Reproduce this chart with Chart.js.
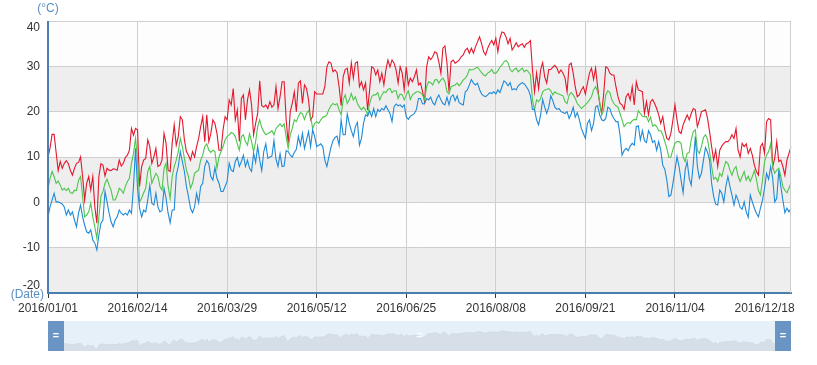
<!DOCTYPE html>
<html><head><meta charset="utf-8">
<script src="https://cdn.jsdelivr.net/npm/chart.js@4.4.1/dist/chart.umd.min.js"></script>
<style>
html,body{margin:0;padding:0;background:#fff;}
#wrap{position:relative;width:817px;height:365px;overflow:hidden;}
#main{position:absolute;left:0;top:0;}
#zoom{position:absolute;left:48px;top:321px;}
</style></head><body>
<div id="wrap"><canvas id="main" width="817" height="365"></canvas><canvas id="zoom" width="743" height="30"></canvas></div>
<script>
// Daily maximum temperature (°C), 2016
const maxTemp = [
10,12,15,15,11,7,9,7.5,8.6,9.2,
8.5,7,6,7.5,8.6,8.8,10,5.7,0.5,4.2,
5.7,2.7,5.7,-1,-4.6,5.7,8.5,8.2,5.8,7.5,
7.1,7,7.4,7.3,7.1,9.3,8,8.6,9.9,10.4,
11.5,16.3,14.8,16.3,16,3.5,7.9,9.3,9.7,13.8,
12.3,8.6,10,11.9,7.9,8.2,9.3,15.2,13,7.1,
6.8,13,17.1,12.6,14.5,18.9,18.2,13.8,11.2,10.4,
9.3,11.2,10,12.3,14.1,16.7,18.9,13.4,19.3,13.4,
15.2,18.2,17.4,15.2,11.5,11.5,16,18.9,18.2,22.6,
21.5,25.1,18.2,20.4,13.4,22.9,23.7,18.2,22.6,24.8,
21.5,14.9,17.4,19.6,26.8,21.3,21,21.5,20.7,22.2,
21,21.5,25.5,20.7,23.3,26.6,26.6,18.2,13,20,
21.8,24.4,20,26.3,26.8,21.8,25.9,25.1,22.6,18.2,
18.9,24.4,23.9,23.9,23.9,23.9,25.5,29.9,31,30.7,
28.8,29.2,28.6,25.5,21.3,27.7,29.3,29.6,26.3,30.8,
27.4,30.7,31,25.5,26.6,24.8,26.3,20.4,24.8,29.9,
29.6,28.1,29.2,26.6,28.5,25.9,29.2,31.4,29.9,31.4,
30.7,29.2,26.3,29.9,28.5,24.8,29.9,25.9,27.4,26.6,
27.7,29.2,25.9,26.3,24.4,22.2,29.9,32.1,31.5,32.1,
33.2,32.9,31,28.5,34,34.5,30.7,24.4,31,31.4,
30.7,31,31.4,32.1,32.5,33.6,34,32.9,34,32.9,
34.3,35.4,36.5,35,33.2,32.5,34,35,35.7,34.7,
36.2,33.2,36.2,37.6,37.4,36.5,35,36.2,33.6,34.3,
35.2,34.3,34.7,35,34.2,35,35.2,35.7,29.2,24.4,
28.5,25.1,29.2,30.8,27.7,26.3,29.3,29.3,29.8,30.2,
29.6,28.5,29.2,28.5,27.4,24.4,30.3,30.7,28.5,25.5,
23.3,23.7,24.8,25.5,23.9,26.3,28.5,29.6,27.1,29.6,
25.5,21.8,19.6,24,29.9,29.6,28.5,28.1,28.1,25.5,
23.3,21.8,21.5,20.5,23.3,24,22.6,25.5,21.5,26.6,
24.8,24.6,24.4,19.6,22.2,19.3,22.2,22.7,21.8,20.7,
19.3,17.4,18.9,16,14.1,13.8,15.2,18.2,21.5,18.2,
15.6,15.2,17.1,18.2,19.3,18.2,19.6,20.7,20.4,16.7,
18.2,20,20.2,20.4,18.5,15.6,12.3,9.3,11.5,7.9,
11.5,12.4,13,13.4,13.4,13.9,14.9,14.1,16.3,11.5,
10,13,12.3,12.9,10.8,11.9,10.4,8.2,6.8,6,
12.3,13,10.8,17.8,18.5,18.2,7.9,9.7,13.4,9,
9.3,7.9,6,9.3,10.8,12.3
];
// Daily average temperature (°C)
const avgTemp = [
3.1,5.3,6.8,5.7,4.2,4.7,3.8,2.7,3.1,2.6,
3.1,2.1,2,2.7,2.6,4.9,5.7,1.3,-3.2,-2.8,
-2.1,-0.2,-3.2,-5.4,-7.9,-3.2,1.3,2.4,4.2,5.1,
3.8,2.7,0.5,0.5,1.6,3.1,2.7,2,3.5,4.6,
5.3,8.6,10.8,14.1,9.3,0.1,0.9,2.1,3.1,6.8,
7.9,4.2,5.3,6.4,5.7,3.5,2.7,7.5,8.6,3.5,
0.9,5.7,7.9,9.3,11.2,14.1,12.3,9.7,7.1,5.7,
3.1,4.2,6.4,6.8,7.1,9.3,10.4,12.3,12.9,11.5,
11,11.5,11.2,7.5,10,11.2,12.3,13.8,14.5,14.9,
15.4,15.2,14.5,12.9,11.5,14.5,14.9,13.4,12.6,15.1,
13.4,11.2,13.4,16.7,18.2,16.5,15.6,14.9,15.2,15.4,
15.8,14.9,16.3,16.8,17.3,16.7,17.3,14.5,11.9,14.9,
16.3,18.2,17.8,18.9,19.8,19.5,18.3,19.6,20.2,18.9,
16.3,17.4,17.8,17.4,18.2,18.8,18.9,19.3,20.5,21.3,
21.8,21.5,21.8,20.4,19.3,22.6,23.7,21.8,22.6,24,
22.6,23.3,21.8,21,20.4,21,20.4,19.3,21.8,23.3,
23.7,23.7,24.2,22.6,23.7,24.4,24.2,24.9,25.1,24.2,
24.6,24.6,22.9,23.9,23.7,22.6,23.7,24.6,22.7,23.7,
24,24.4,24.4,24.2,23.7,22.6,25.5,26.6,26.4,25.9,
27,27.1,26.3,27,27.4,26.6,24.4,23.9,25.5,25.7,
25.9,26.3,25.7,26.3,27,27.4,28.1,29.3,29.2,29.3,
29.6,29.8,29.2,28.6,28.1,27.9,28.5,28.8,29.3,28.5,
28.5,29,29.8,30.3,31,31.3,30.8,29.3,28.8,29.3,
29.6,28.8,29.2,29.6,28.8,29.2,28.8,28.1,22.6,20.4,
22.6,22.2,22.9,24.4,24.8,24.9,25.1,24.6,23.7,24.4,
24,23.9,23.7,23.5,22.2,21.8,23.7,24.2,23.7,22.9,
21.8,21.3,20.7,21.1,21.5,22,22.6,23.3,24.8,25.5,
24.4,22.2,19.3,20.4,23.7,24.6,24.2,22.6,21.8,21.3,
21,19.6,18.2,16.7,17.3,17.6,17.4,18,18.3,18.2,
20.2,19.6,19,18.9,18.9,17.8,18.8,16.8,17.1,16.7,
15.8,15.8,14.9,13.4,11.9,9.9,10,11.7,13,13.4,
13.4,13,10,9,10.8,11,13.8,15.6,16,11.5,
10.8,12.3,14.3,14.9,13.9,11.2,7.9,5.1,5.5,4.6,
6.4,5.7,7.5,9,8.6,7.1,6,7.3,7.9,5.8,
4.6,5.7,6.8,4.9,5.8,4.6,5.7,7,5.1,2.6,
1.6,4.9,9,10.4,11.2,12.9,7.9,6.4,7.1,7.5,
5.7,3.5,2.6,2.1,3.1,4.3
];
// Daily minimum temperature (°C)
const minTemp = [
-3.2,-1,0.5,2,0.1,0.1,-0.1,-0.4,-1,-2.8,
-1.7,-2.8,-2.1,-3.9,-5.4,-2.4,-0.6,-3.2,-5,-6.5,
-6.8,-6.1,-8.3,-9,-10.5,-7.2,-4.6,-3.9,2.4,0.1,
-2.4,-4.3,-5.4,-3.9,-3.2,-1.7,-2.4,-2.8,-2.4,-2.8,
-1.7,-2.4,3.5,11.9,3,-1.3,-3.2,-1.7,-2.1,0.5,
3.8,-0.2,-0.6,2,-1,-2.1,-1.8,3.1,0.9,-2.4,
-4.5,-1.7,-1.7,6,7.9,11.2,9,6.8,3.5,1.3,
-1.3,-2.3,-1,2,-0.1,3.5,4.2,7.9,9.2,8.5,
5.7,4.9,7.7,5.3,4.2,2.4,2.4,3.5,4.6,8.6,
7.1,6.8,9,9.9,7.9,9,10.4,7.9,9.3,7.5,
6.8,10.8,8.8,12.3,9.3,7,11.2,12.9,9.7,10,
10.2,13.6,9.5,7.9,10.7,7.9,8,11.4,11.2,10.4,
10,11,11.7,14.5,12.6,15.2,11.9,13.8,15.6,12.3,
16,14.5,12.3,12.6,12.9,12.3,9.3,7.9,10.1,12.1,
13.6,14.3,14.6,12.6,18.2,14.9,14.9,19.5,17.4,15.8,
14.5,16.7,17.6,12.6,14.1,17.4,19.3,19,20.2,18.9,
20.7,18.9,20.5,20,20.7,20.4,21.3,20.4,19.6,17.8,
21.1,21.7,21.3,21.5,21,21.5,18.9,18.3,19,19.3,
19.6,20.5,22.9,22.9,21.7,21.8,22.9,22.6,23.2,22,
21.5,22.9,23.7,22.6,21.8,21.5,23.2,21.5,23.3,23.7,
22.4,23.5,22,21.7,21.5,24.4,24.8,25.9,27.1,26.3,
25.9,26.3,24.9,23.9,23.5,23.3,23.7,24.2,24,24.4,
23.9,24.8,24.2,25.5,26.8,26.4,25.7,26.4,24.8,25.1,
24.8,25.7,26.1,26.4,26.1,25.5,24.8,23.5,20.5,20.5,
18.2,17.1,19.3,22.7,21,19.6,21,23.5,22.4,21,
20.5,20.7,20,19.8,19.6,20,18.5,19.5,21,18.8,
19.8,18.3,16.3,15.2,14.1,17.4,18.2,15.8,17.4,21,
21.3,19.3,18.2,18,18.5,21,20.7,19.3,18.5,17.8,
17.8,14.9,10.4,11.4,11.9,11.4,12.4,13,12.6,16.7,
16.9,13.8,15.8,13.6,13.2,15.8,14.9,13.2,13.6,11.5,
13.4,11.5,8.2,7.3,4.9,1.3,1.6,4.2,7.1,10.1,
7.9,4.9,2.1,7.1,9,5.3,3.8,8.6,14.5,7.9,
5.3,6.4,9.3,12.1,11,9.3,4.2,1.3,-0.4,-0.6,
2.7,2,0.1,3.5,5.7,3.5,1.6,-0.6,1.6,0.5,
-1.1,-1.5,0.1,-2.1,-3.3,1.6,0.1,-1.3,-2.4,-3.2,
-1.3,0.5,3.1,6.4,5.1,7.9,5.3,0.1,0.9,7.1,
3.5,0.5,-2.3,-1.3,-2.1,-1.3
];
// Category axis: every day of 2016
const categories = [];
for (let i = 0; i < 366; i++) {
  const d = new Date(Date.UTC(2016, 0, 1 + i));
  categories.push(d.getUTCFullYear() + '/' + String(d.getUTCMonth() + 1).padStart(2, '0') + '/' + String(d.getUTCDate()).padStart(2, '0'));
}
const labelInterval = 44;
const yTickValues = [40, 30, 20, 10, 0, -10, -20];
const yAxisName = '(°C)';
const xAxisName = '(Date)';

const FONT = '"Liberation Sans", Arial, sans-serif';
Chart.defaults.font.family = FONT;
Chart.defaults.font.size = 12;
const AXIS_BLUE = '#4a7eae';
const NAME_BLUE = '#5b8fc2';
const GRID = '#cfcfcf';

const bandsPlugin = {
  id: 'bands',
  beforeDraw(chart) {
    const { ctx, chartArea: a, scales: { y } } = chart;
    ctx.save();
    for (let i = 0; i < yTickValues.length - 1; i++) {
      const y1 = y.getPixelForValue(yTickValues[i]);
      const y2 = y.getPixelForValue(yTickValues[i + 1]);
      ctx.fillStyle = i % 2 === 1 ? 'rgba(200,200,200,0.3)' : 'rgba(250,250,250,0.3)';
      ctx.fillRect(a.left, y1, a.right - a.left, y2 - y1);
    }
    ctx.restore();
  },
  afterDraw(chart) {
    const { ctx, chartArea: a, scales: { y } } = chart;
    ctx.save();
    // right border of grid
    ctx.strokeStyle = GRID; ctx.lineWidth = 1;
    ctx.beginPath(); ctx.moveTo(Math.round(a.right) - 0.5, a.top); ctx.lineTo(Math.round(a.right) - 0.5, a.bottom); ctx.stroke();
    // y axis line
    ctx.fillStyle = AXIS_BLUE;
    ctx.fillRect(Math.round(a.left) - 1, Math.round(a.top), 2, Math.round(a.bottom - a.top) + 1);
    // y labels
    ctx.font = '12px ' + FONT;
    ctx.fillStyle = '#333';
    ctx.textAlign = 'right';
    yTickValues.forEach((v, i) => {
      const py = y.getPixelForValue(v);
      if (i === 0) { ctx.textBaseline = 'top'; ctx.fillText(String(v), 40, py + 1); }
      else if (i === yTickValues.length - 1) { ctx.textBaseline = 'bottom'; ctx.fillText(String(v), 40, py - 1); }
      else { ctx.textBaseline = 'middle'; ctx.fillText(String(v), 40, py); }
    });
    // axis names
    ctx.fillStyle = NAME_BLUE;
    ctx.textAlign = 'center'; ctx.textBaseline = 'middle';
    ctx.fillText(yAxisName, 48, 9);
    ctx.textAlign = 'right';
    ctx.fillText(xAxisName, 44, 295);
    ctx.restore();
  }
};

const isLabel = (i) => i % labelInterval === 0;

new Chart(document.getElementById('main'), {
  type: 'line',
  data: {
    labels: categories,
    datasets: [
      { label: 'max', data: maxTemp, borderColor: '#e4172d', borderWidth: 1.1, pointRadius: 0, tension: 0, fill: false, order: 3 },
      { label: 'avg', data: avgTemp, borderColor: '#4cc64c', borderWidth: 1.1, pointRadius: 0, tension: 0, fill: false, order: 2 },
      { label: 'min', data: minTemp, borderColor: '#1f8ad8', borderWidth: 1.1, pointRadius: 0, tension: 0, fill: false, order: 1 }
    ]
  },
  options: {
    responsive: false,
    animation: false,
    events: [],
    layout: { padding: { left: 0, right: 26, top: 21, bottom: 0 } },
    plugins: { legend: { display: false }, tooltip: { enabled: false } },
    scales: {
      x: {
        type: 'category',
        offset: false,
        grid: {
          color: (c) => (c.index % labelInterval === 0 && c.index > 0 ? GRID : 'rgba(0,0,0,0)'),
          tickColor: (c) => (c.index % labelInterval === 0 ? '#333' : 'rgba(0,0,0,0)'),
          lineWidth: 1, drawTicks: true, tickLength: 5
        },
        border: { color: AXIS_BLUE, width: 2 },
        ticks: {
          autoSkip: false, maxRotation: 0, minRotation: 0, padding: 3, color: '#333',
          font: { size: 12 },
          callback: (v, i) => (isLabel(i) ? categories[i] : '')
        },
        afterFit: (s) => { s.height = 72; }
      },
      y: {
        min: -20, max: 40,
        ticks: { stepSize: 10, color: 'rgba(0,0,0,0)', padding: 0 },
        grid: { color: GRID, drawTicks: false, lineWidth: 1 },
        border: { display: false },
        afterFit: (s) => { s.width = 48; }
      }
    }
  },
  plugins: [bandsPlugin]
});

const sliderPlugin = {
  id: 'slider',
  beforeDraw(chart) {
    const { ctx, width, height } = chart;
    ctx.save();
    ctx.fillStyle = '#e6f0f9';
    ctx.fillRect(0, 0, width, height);
    ctx.restore();
  },
  afterDraw(chart) {
    const { ctx, width, height } = chart;
    ctx.save();
    ctx.fillStyle = '#6a94c3';
    ctx.fillRect(0, 0, 16, height);
    ctx.fillRect(width - 16, 0, 16, height);
    ctx.font = 'bold 11px ' + FONT;
    ctx.textAlign = 'center'; ctx.textBaseline = 'middle';
    ctx.fillStyle = '#ffffff';
    ctx.fillText('=', 8, height / 2);
    ctx.fillText('=', width - 8, height / 2);
    ctx.fillStyle = 'rgba(255,255,255,0.85)';
    ctx.fillText('=', width / 2, height / 2);
    ctx.restore();
  }
};

new Chart(document.getElementById('zoom'), {
  type: 'line',
  data: {
    labels: categories,
    datasets: [{ data: maxTemp, borderColor: '#cfd8e2', borderWidth: 0.8, backgroundColor: '#d6dfe8', fill: 'start', pointRadius: 0, tension: 0 }]
  },
  options: {
    responsive: false, animation: false, events: [],
    layout: { padding: 0 },
    plugins: { legend: { display: false }, tooltip: { enabled: false } },
    scales: { x: { display: false, offset: false }, y: { display: false, min: -7.3, max: 60 } }
  },
  plugins: [sliderPlugin]
});
</script>
</body></html>
